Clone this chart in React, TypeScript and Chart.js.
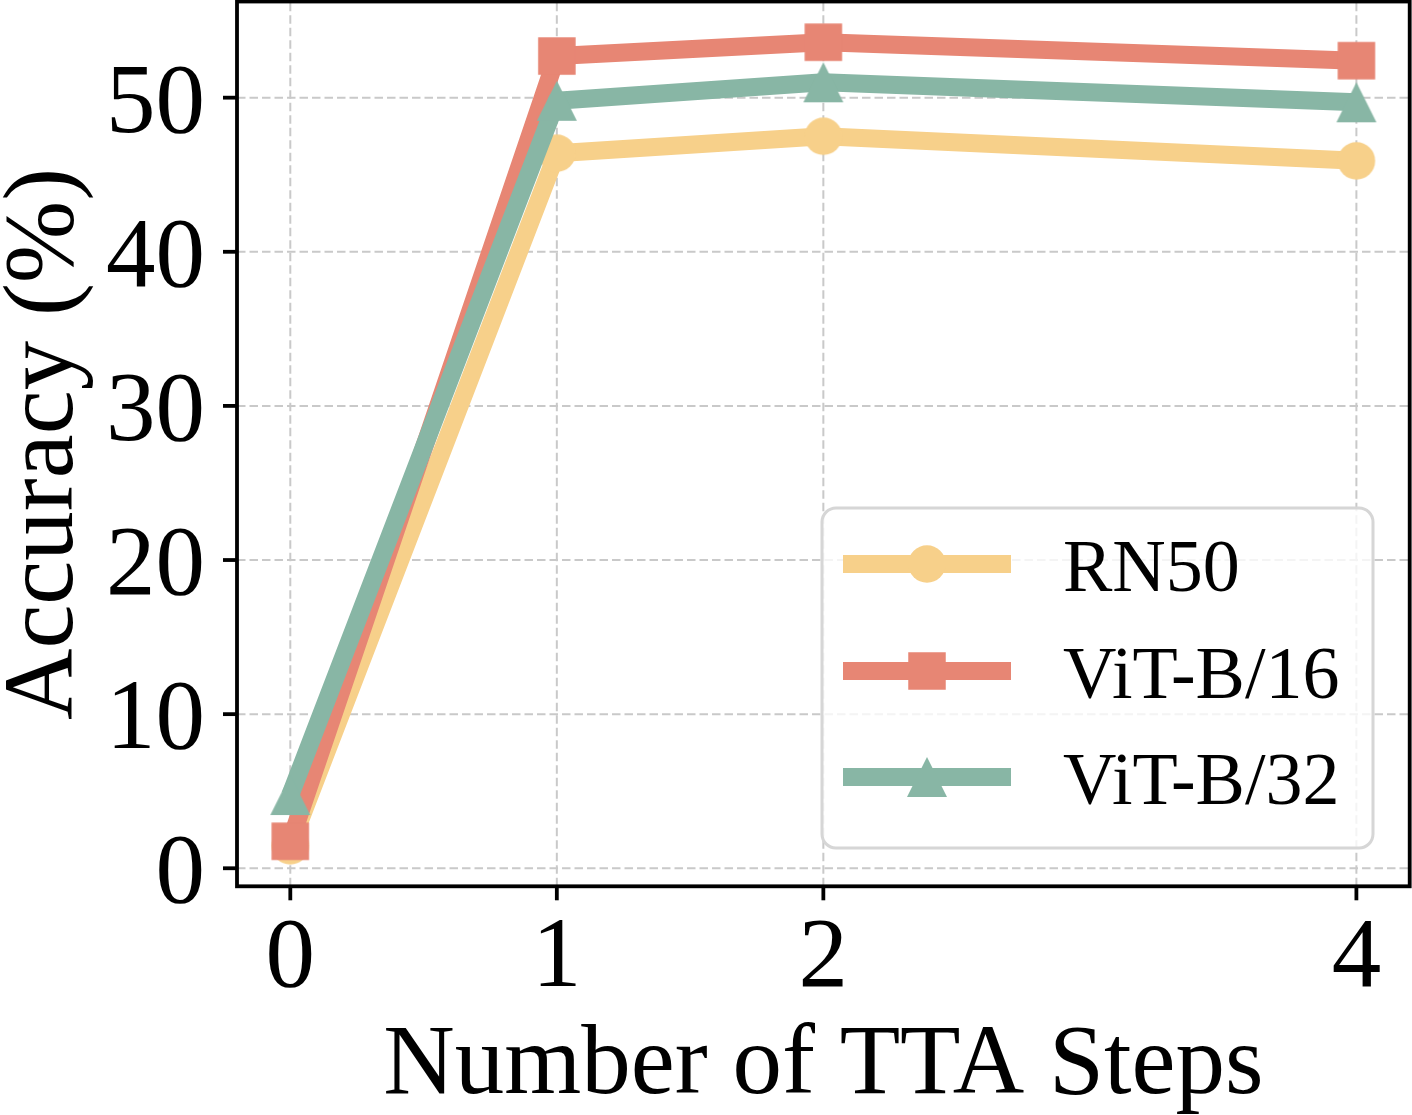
import { useEffect, useRef } from "react";
import { Chart, registerables } from "chart.js";

Chart.register(...registerables);

// Accuracy (%) after each number of test-time adaptation steps
const steps = [0, 1, 2, 4];
const rn50 = [1.46, 46.4, 47.5, 45.9];
const vitB16 = [1.75, 52.7, 53.6, 52.4];
const vitB32 = [4.75, 49.8, 51.0, 49.7];

const yTicks = [0, 10, 20, 30, 40, 50];
const xTickLabels = ["0", "1", "2", "4"];
const seriesNames = ["RN50", "ViT-B/16", "ViT-B/32"];
const seriesColors = ["#F7D08A", "#E78674", "#88B6A5"];
const seriesShapes = ["circle", "square", "triangle"];

const xTitle = "Number of TTA Steps";
const yTitle = "Accuracy (%)";

const FONT = '"Liberation Serif", "Times New Roman", serif';
const W = 1412;
const H = 1115;

function makeMarker(shape: string, color: string, size: number): HTMLCanvasElement {
  const c = document.createElement("canvas");
  const dim = Math.ceil(size) + 4 + ((Math.ceil(size) + 4) % 2);
  c.width = dim;
  c.height = dim;
  const ctx = c.getContext("2d")!;
  const m = dim / 2;
  const h = size / 2;
  ctx.fillStyle = color;
  ctx.beginPath();
  if (shape === "circle") {
    ctx.arc(m, m, h, 0, Math.PI * 2);
  } else if (shape === "square") {
    ctx.rect(m - h, m - h, size, size);
  } else {
    ctx.moveTo(m, m - h);
    ctx.lineTo(m + h, m + h);
    ctx.lineTo(m - h, m + h);
    ctx.closePath();
  }
  ctx.fill();
  return c;
}

const markerSizes: Record<string, number> = { circle: 37.5, square: 37.5, triangle: 40 };

export default function App() {
  const canvasRef = useRef<HTMLCanvasElement | null>(null);

  useEffect(() => {
    const canvas = canvasRef.current;
    if (!canvas) return;

    const markers = seriesShapes.map((s, i) => makeMarker(s, seriesColors[i], markerSizes[s]));
    const values = [rn50, vitB16, vitB32];

    const axesDecor = {
      id: "axesDecor",
      beforeDatasetsDraw(chart: any) {
        const { ctx, chartArea: a, scales } = chart;
        const xs = scales.x;
        const ys = scales.y;
        ctx.save();
        ctx.strokeStyle = "#c9c9c9";
        ctx.lineWidth = 2;
        ctx.setLineDash([8.5, 4]);
        for (const v of yTicks) {
          const y = ys.getPixelForValue(v);
          ctx.beginPath();
          ctx.moveTo(a.left, y);
          ctx.lineTo(a.right, y);
          ctx.stroke();
        }
        for (const v of steps) {
          const x = xs.getPixelForValue(v);
          ctx.beginPath();
          ctx.moveTo(x, a.bottom);
          ctx.lineTo(x, a.top);
          ctx.stroke();
        }
        ctx.restore();
      },
      afterDatasetsDraw(chart: any) {
        const { ctx, chartArea: a, scales } = chart;
        const xs = scales.x;
        const ys = scales.y;
        ctx.save();
        ctx.strokeStyle = "#000";
        ctx.lineWidth = 3.8;
        ctx.setLineDash([]);
        // tick marks
        for (const v of yTicks) {
          const y = ys.getPixelForValue(v);
          ctx.beginPath();
          ctx.moveTo(a.left - 14, y);
          ctx.lineTo(a.left, y);
          ctx.stroke();
        }
        for (const v of steps) {
          const x = xs.getPixelForValue(v);
          ctx.beginPath();
          ctx.moveTo(x, a.bottom);
          ctx.lineTo(x, a.bottom + 14);
          ctx.stroke();
        }
        // frame
        ctx.lineJoin = "miter";
        ctx.strokeRect(a.left, a.top, a.right - a.left, a.bottom - a.top);
        ctx.restore();
      },
      afterDraw(chart: any) {
        const { ctx, chartArea: a, scales } = chart;
        const xs = scales.x;
        const ys = scales.y;
        ctx.save();
        ctx.fillStyle = "#000";
        ctx.font = `99px ${FONT}`;
        ctx.textBaseline = "alphabetic";

        // y tick labels
        ctx.textAlign = "right";
        for (const v of yTicks) {
          ctx.fillText(String(v), a.left - 32, ys.getPixelForValue(v) + 34);
        }
        // x tick labels
        ctx.textAlign = "center";
        steps.forEach((v, i) => {
          ctx.fillText(xTickLabels[i], xs.getPixelForValue(v), a.bottom + 100);
        });
        // axis titles
        ctx.fillText(xTitle, (a.left + a.right) / 2, 1093);
        ctx.save();
        ctx.translate(72, (a.top + a.bottom) / 2);
        ctx.rotate(-Math.PI / 2);
        ctx.fillText(yTitle, 0, 0);
        ctx.restore();

        // legend
        const lx = 822;
        const ly = 508;
        const lw = 551;
        const lh = 340;
        ctx.beginPath();
        ctx.roundRect(lx, ly, lw, lh, 14);
        ctx.fillStyle = "rgba(255,255,255,0.8)";
        ctx.fill();
        ctx.strokeStyle = "#d6d6d6";
        ctx.lineWidth = 3;
        ctx.stroke();

        const rowY = [564, 671, 777];
        ctx.font = `74px ${FONT}`;
        ctx.textAlign = "left";
        seriesNames.forEach((name, i) => {
          const y = rowY[i];
          ctx.strokeStyle = seriesColors[i];
          ctx.lineWidth = 18;
          ctx.lineCap = "butt";
          ctx.beginPath();
          ctx.moveTo(843, y);
          ctx.lineTo(1011, y);
          ctx.stroke();
          const mk = markers[i];
          ctx.drawImage(mk, 927 - mk.width / 2, y - mk.height / 2);
          ctx.fillStyle = "#000";
          ctx.fillText(name, 1063, y + 27);
        });
        ctx.restore();
      },
    };

    const chart = new Chart(canvas, {
      type: "line",
      data: {
        datasets: seriesNames.map((name, i) => ({
          label: name,
          data: steps.map((s, j) => ({ x: s, y: values[i][j] })),
          borderColor: seriesColors[i],
          backgroundColor: seriesColors[i],
          borderWidth: 18,
          borderJoinStyle: "round" as const,
          borderCapStyle: "butt" as const,
          pointStyle: markers[i] as any,
          pointRadius: 20,
          pointHoverRadius: 20,
          tension: 0,
          fill: false,
          order: 3 - i,
        })),
      },
      options: {
        animation: false,
        responsive: false,
        events: [],
        layout: { autoPadding: false, padding: { top: 1.5, right: 2.3, left: 0, bottom: 0 } },
        plugins: {
          legend: { display: false },
          tooltip: { enabled: false },
        },
        scales: {
          x: {
            type: "linear",
            min: -0.2,
            max: 4.2,
            ticks: { display: false },
            grid: { display: false },
            border: { display: false },
            afterBuildTicks: (s: any) => {
              s.ticks = steps.map((v) => ({ value: v }));
            },
            afterFit: (s: any) => {
              s.height = H - 886.3;
            },
          },
          y: {
            type: "linear",
            min: -1.17,
            max: 56.24,
            ticks: { display: false },
            grid: { display: false },
            border: { display: false },
            afterBuildTicks: (s: any) => {
              s.ticks = yTicks.map((v) => ({ value: v }));
            },
            afterFit: (s: any) => {
              s.width = 237;
            },
          },
        },
      },
      plugins: [axesDecor],
    });

    let alive = true;
    if ((document as any).fonts?.load) {
      Promise.all([
        document.fonts.load(`99px ${FONT}`),
        document.fonts.load(`74px ${FONT}`),
      ]).then(() => {
        if (alive) chart.update();
      });
    }

    return () => {
      alive = false;
      chart.destroy();
    };
  }, []);

  return (
    <div style={{ position: "fixed", left: 0, top: 0, width: W, height: H, background: "#fff" }}>
      <canvas ref={canvasRef} width={W} height={H} style={{ display: "block" }} />
    </div>
  );
}
